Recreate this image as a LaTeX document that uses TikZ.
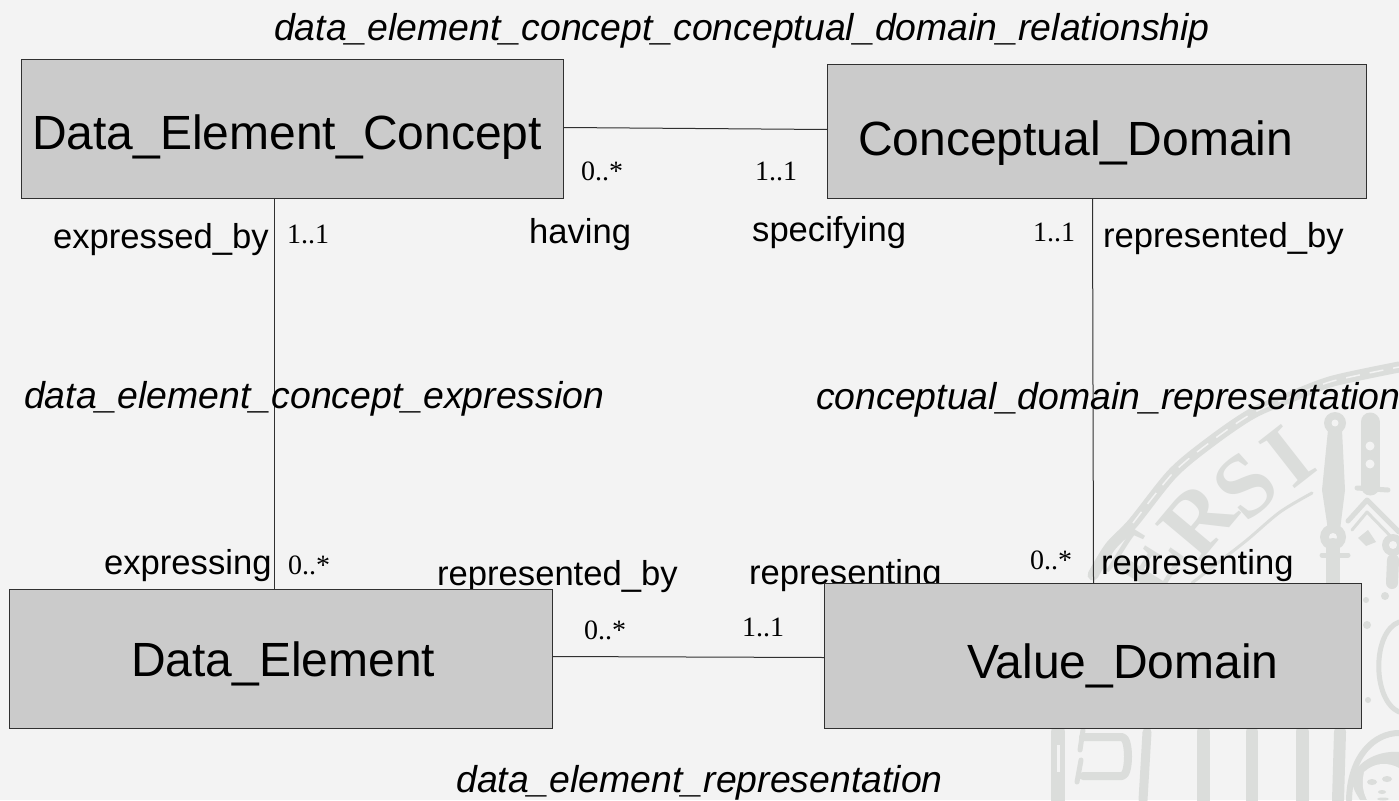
\documentclass[tikz,border=0pt]{standalone}
\usepackage{fontspec}
\setmainfont{Liberation Sans}
\newfontfamily\serifm{Liberation Serif}
\definecolor{pagebg}{HTML}{F3F3F3}
\definecolor{boxfill}{HTML}{CBCBCB}
\definecolor{boxline}{HTML}{303030}
\definecolor{sealc}{HTML}{DBDDDB}
\tikzset{
 entity/.style={draw=boxline,fill=boxfill,line width=1pt,inner sep=0pt,anchor=north west},
 entname/.style={font=\fontsize{48}{48}\selectfont,anchor=base west,inner sep=0pt},
 role/.style={font=\fontsize{34.6}{34.6}\selectfont,anchor=base west,inner sep=0pt},
 rel/.style={font=\fontsize{37.4}{37.4}\itshape\selectfont,anchor=base west,inner sep=0pt},
 mult/.style={font=\serifm\fontsize{28}{28}\selectfont,anchor=base west,inner sep=0pt},
 assoc/.style={draw=boxline,line width=1pt},
 seal/.style={draw=sealc,line cap=round,line join=round},
 sealtxt/.style={font=\serifm\fontsize{90}{90}\bfseries\selectfont,text=sealc,inner sep=0pt}
}
\begin{document}
\begin{tikzpicture}[x=1pt,y=-1pt]
\useasboundingbox[fill=pagebg] (0,0) rectangle (1399,800);
% watermark seal: ring
\draw[seal,line width=11pt] plot[smooth] coordinates {(1093,575) (1110,547) (1133,523) (1173,473) (1213,440) (1253,413) (1293,396) (1333,381) (1399,367)};
\draw[pagebg,line width=1.5pt,dash pattern=on 14pt off 10pt] plot[smooth] coordinates {(1133,523) (1173,473) (1213,440) (1253,413) (1293,396) (1333,381) (1399,367)};
\draw[seal,line width=3pt] plot[smooth] coordinates {(1312,493) (1280,512) (1247,540) (1215,565) (1192,583)};
% letters
\node[sealtxt,rotate=58] (seale) at (1146,562) {E};
\node[sealtxt,rotate=50] (sealr) at (1198,520) {R};
\node[sealtxt,rotate=42] (seals) at (1245,486) {S};
\node[sealtxt,rotate=38] (seali) at (1288,456) {I};
% mace
\fill[sealc] (1328,430) -- (1342,430) -- (1345,490) -- (1340,530) -- (1328,530) -- (1322,490) -- cycle;
\fill[sealc] (1335,423) circle[radius=11];
\fill[pagebg] (1335,423) circle[radius=3.5];
\fill[sealc] (1333,537) circle[radius=13];
\fill[pagebg] (1333,537) circle[radius=4];
\draw[seal,line width=14pt] (1333,545) -- (1333,585);
\draw[seal,line width=5pt] (1322,555) -- (1348,555);
% chain column
\draw[seal,line width=19pt] (1370,422) -- (1370,486);
\fill[pagebg] (1370,446) circle[radius=4.5] (1370,464) circle[radius=4.5];
\draw[seal,line width=5pt] (1357,488) -- (1388,490);
% roof
\draw[seal,line width=5pt] (1348,521) -- (1367,500) -- (1399,532);
\draw[seal,line width=3pt] (1352,530) -- (1367,512) -- (1399,545);
\fill[sealc] (1358,538) -- (1368,530) -- (1376,542) -- (1366,546) -- cycle;
\fill[sealc] (1393,545) circle[radius=11];
\fill[pagebg] (1393,545) circle[radius=4];
\draw[seal,line width=12pt] (1393,560) -- (1392,583);
% right of the box
\draw[seal,line width=5pt] (1399,622) .. controls (1372,632) and (1372,700) .. (1399,712);
\fill[sealc] (1366,600) circle[radius=3] (1385,596) circle[radius=4] (1367,625) circle[radius=4] (1368,700) circle[radius=3];
% lower columns
\draw[seal,line width=14pt] (1058,732) -- (1058,800);
\fill[pagebg] (1057,745) rectangle (1060,772);
\draw[seal,line width=8pt] (1083,737) -- (1122,737) .. controls (1130,737) and (1130,776) .. (1122,776) -- (1083,776);
\draw[seal,line width=5pt] (1083,730) -- (1080,750) (1081,760) -- (1077,782);
\draw[seal,line width=9pt] (1147,732) -- (1143,800);
\draw[seal,line width=13pt] (1203,732) -- (1203,800);
\draw[seal,line width=12pt] (1252,732) -- (1252,800);
\draw[seal,line width=13pt] (1302,732) -- (1302,800);
\draw[seal,line width=12pt] (1340,732) -- (1338,800);
% saint
\draw[seal,line width=6pt] (1399,733) .. controls (1375,733) and (1350,755) .. (1349,800);
\fill[sealc] (1399,752) .. controls (1375,750) and (1352,765) .. (1352,782) .. controls (1354,792) and (1358,796) .. (1360,800) -- (1399,800) -- cycle;
\fill[pagebg] (1364,772) .. controls (1375,762) and (1388,762) .. (1399,768) -- (1399,800) -- (1367,800) .. controls (1362,790) and (1362,782) .. (1364,772) -- cycle;
\fill[sealc] (1372,782) ellipse[x radius=5,y radius=3] (1387,779) ellipse[x radius=5,y radius=3] (1382,792) ellipse[x radius=4,y radius=2] (1383,799) ellipse[x radius=6,y radius=1.5];
% labels partly hidden by the box
\node[role] (rrep) at (749,584) {representing};
\node[role] (lrep) at (437,585) {represented\_by};
% entities
\node[entity,minimum width=542pt,minimum height=139pt] (dec) at (21,59) {};
\node[entity,minimum width=539pt,minimum height=134pt] (cd) at (827,64) {};
\node[entity,minimum width=543pt,minimum height=139pt] (de) at (9,589) {};
\node[entity,minimum width=537pt,minimum height=145pt] (vd) at (824,583) {};
% connectors
\draw[assoc] ([yshift=1.5pt]dec.east) -- ([yshift=2pt]cd.west);
\draw[assoc] ([xshift=-18pt]dec.south) -- ([xshift=-6.5pt]de.north);
\draw[assoc] ([xshift=-4.5pt]cd.south) -- ([xshift=0.5pt]vd.north);
\draw[assoc] ([yshift=2.5pt]de.east) -- ([yshift=-1.5pt]vd.west);
% names
\node[entname] (t1) at (32,149) {Data\_Element\_Concept};
\node[entname] (t2) at (858,155.5) {Conceptual\_Domain};
\node[entname] (t3) at (131,676) {Data\_Element};
\node[entname] (t4) at (967,678.5) {Value\_Domain};
% relationship labels
\node[rel] (r1) at (274,40.5) {data\_element\_concept\_conceptual\_domain\_relationship};
\node[rel] (r2) at (24,408) {data\_element\_concept\_expression};
\node[rel] (r3) at (816,409) {conceptual\_domain\_representation};
\node[rel] (r4) at (456,792) {data\_element\_representation};
% roles
\node[role] (a1) at (53,248) {expressed\_by};
\node[role] (a2) at (529,243.5) {having};
\node[role] (a3) at (752,241.5) {specifying};
\node[role] (a4) at (1103,247) {represented\_by};
\node[role] (a5) at (104,574.5) {expressing};
\node[role] (a6) at (1101,574.5) {representing};
% multiplicities
\node[mult] (m1) at (581,180) {0..*};
\node[mult] (m2) at (755,180) {1..1};
\node[mult] (m3) at (287,243) {1..1};
\node[mult] (m4) at (1033,241) {1..1};
\node[mult] (m5) at (288,574) {0..*};
\node[mult] (m6) at (1030,569) {0..*};
\node[mult] (m7) at (584,639) {0..*};
\node[mult] (m8) at (742,636) {1..1};
\end{tikzpicture}
\end{document}
